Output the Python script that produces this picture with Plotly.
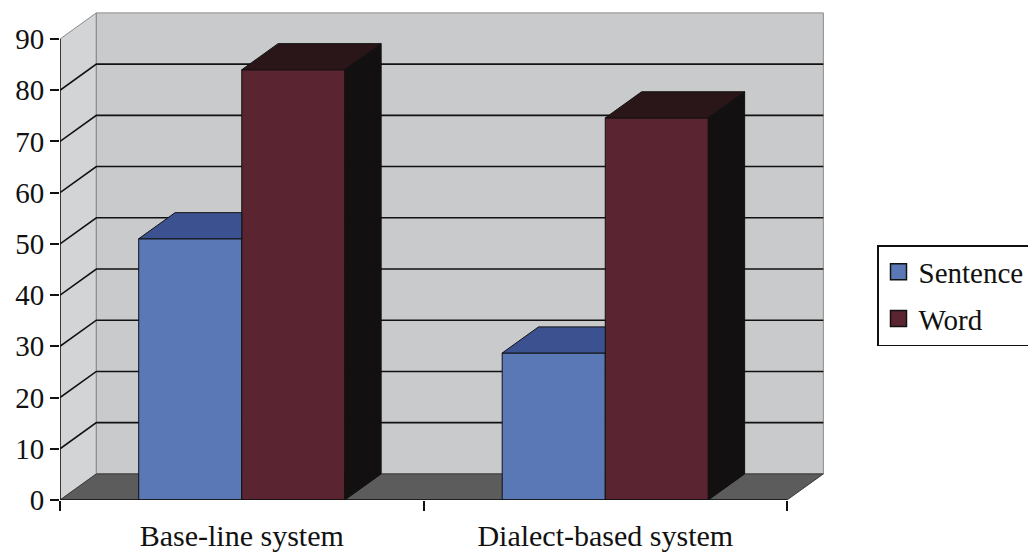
import plotly.graph_objects as go

# --- data -------------------------------------------------------------
systems = ["Base-line system", "Dialect-based system"]
sentence = [51.0, 28.7]
word = [84.0, 74.6]
y_ticks = [0, 10, 20, 30, 40, 50, 60, 70, 80, 90]

SENT_COLOR = "#5a78b6"
WORD_COLOR = "#5a2431"

# --- geometry of the pseudo-3D box (axis units) -------------------------
Y_MAX = 90
X_LO, X_HI = -0.5, 1.5
DX = 0.1          # depth offset along x
DY = 5.1          # depth offset along y
BARGAP = 0.433
BAR_W = (1 - BARGAP) / 2

FONT = "Liberation Serif"
INK = "#111111"

W_PX, H_PX = 1028, 555
M_L, M_R, M_T, M_B = 60, 203, 10, 55
px_per_x = 363.5
px_per_y = 5.122
x_range = [X_LO, X_LO + (W_PX - M_L - M_R) / px_per_x]
y_range = [0, (H_PX - M_T - M_B) / px_per_y]

fig = go.Figure()

# front faces of the columns
fig.add_trace(go.Bar(
    name="Sentence", x=[0, 1], y=sentence, showlegend=False,
    marker=dict(color=SENT_COLOR, line=dict(color=INK, width=1)),
))
fig.add_trace(go.Bar(
    name="Word", x=[0, 1], y=word, showlegend=False,
    marker=dict(color=WORD_COLOR, line=dict(color=INK, width=1)),
))


def face(xs, ys, color):
    fig.add_trace(go.Scatter(
        x=xs + [xs[0]], y=ys + [ys[0]], mode="lines", fill="toself",
        fillcolor=color, line=dict(color=INK, width=1),
        showlegend=False, hoverinfo="skip",
    ))


for c, s, w in zip([0, 1], sentence, word):
    s0, s1 = c - BAR_W, c
    w0, w1 = c, c + BAR_W
    # Sentence top (its right part sits behind the Word column)
    face([s0, s1, s1, s0 + DX], [s, s, s + DY, s + DY], "#3c5190")
    # Word top and side
    face([w0, w1, w1 + DX, w0 + DX], [w, w, w + DY, w + DY], "#2a1618")
    face([w1, w1, w1 + DX, w1 + DX], [0, w, w + DY, DY], "#131011")

# legend keys (square swatches)
for name, color, grp in [("Sentence", SENT_COLOR, "s"), ("Word", WORD_COLOR, "w")]:
    fig.add_trace(go.Scatter(
        name=name, x=[None], y=[None], mode="markers", legendgroup=grp,
        marker=dict(symbol="square", size=16, color=color,
                    line=dict(color=INK, width=1.5)),
    ))

# --- walls, floor, gridlines ----------------------------------------------
shapes = []
# side wall
shapes.append(dict(
    type="path", layer="below", xref="x", yref="y",
    path=f"M{X_LO},0 L{X_LO},{Y_MAX} L{X_LO + DX},{Y_MAX + DY} L{X_LO + DX},{DY} Z",
    fillcolor="#d3d4d6", line=dict(color="#8a8a8a", width=1),
))
# back wall
shapes.append(dict(
    type="rect", layer="below", xref="x", yref="y",
    x0=X_LO + DX, x1=X_HI + DX, y0=DY, y1=Y_MAX + DY,
    fillcolor="#c9cacc", line=dict(color="#8a8a8a", width=1),
))
# floor
shapes.append(dict(
    type="path", layer="below", xref="x", yref="y",
    path=f"M{X_LO},0 L{X_HI},0 L{X_HI + DX},{DY} L{X_LO + DX},{DY} Z",
    fillcolor="#5c5c5c", line=dict(color="#3a3a3a", width=1),
))
# gridlines across side and back wall
for v in y_ticks[1:-1]:
    shapes.append(dict(
        type="path", layer="below", xref="x", yref="y",
        path=f"M{X_LO},{v} L{X_LO + DX},{v + DY} L{X_HI + DX},{v + DY}",
        line=dict(color=INK, width=1.6),
    ))
# axis lines
shapes.append(dict(type="line", layer="above", xref="x", yref="y",
                   x0=X_LO, x1=X_LO, y0=0, y1=Y_MAX,
                   line=dict(color=INK, width=1.5)))
shapes.append(dict(type="line", layer="above", xref="x", yref="y",
                   x0=X_LO, x1=X_HI, y0=0, y1=0,
                   line=dict(color=INK, width=1.5)))

fig.update_layout(
    width=W_PX, height=H_PX,
    margin=dict(l=M_L, r=M_R, t=M_T, b=M_B, autoexpand=False),
    paper_bgcolor="white", plot_bgcolor="white",
    barmode="group", bargap=BARGAP, bargroupgap=0,
    shapes=shapes,
    font=dict(family=FONT, color=INK),
    showlegend=True,
    legend=dict(
        x=(877 - M_L) / (W_PX - M_L - M_R), xanchor="left",
        y=(H_PX - M_B - 245) / (H_PX - M_T - M_B), yanchor="top",
        bgcolor="white", bordercolor=INK, borderwidth=1.5,
        font=dict(family=FONT, size=29, color=INK),
        tracegroupgap=6, itemsizing="trace",
    ),
    xaxis=dict(
        range=x_range, showgrid=False, zeroline=False, showline=False,
        tickmode="array", tickvals=[0, 1], ticktext=systems, ticks="",
        tickfont=dict(family=FONT, size=30, color=INK),
        ticklabelstandoff=15,
        minor=dict(tickmode="array", tickvals=[X_LO, 0.5, X_HI],
                   ticks="outside", ticklen=10, tickwidth=1.5, tickcolor=INK),
    ),
    yaxis=dict(
        range=y_range, showgrid=False, zeroline=False, showline=False,
        tickmode="array", tickvals=y_ticks,
        ticks="outside", ticklen=9, tickwidth=1.5, tickcolor=INK,
        tickfont=dict(family=FONT, size=29, color=INK),
    ),
)

fig.write_html("out.html")
